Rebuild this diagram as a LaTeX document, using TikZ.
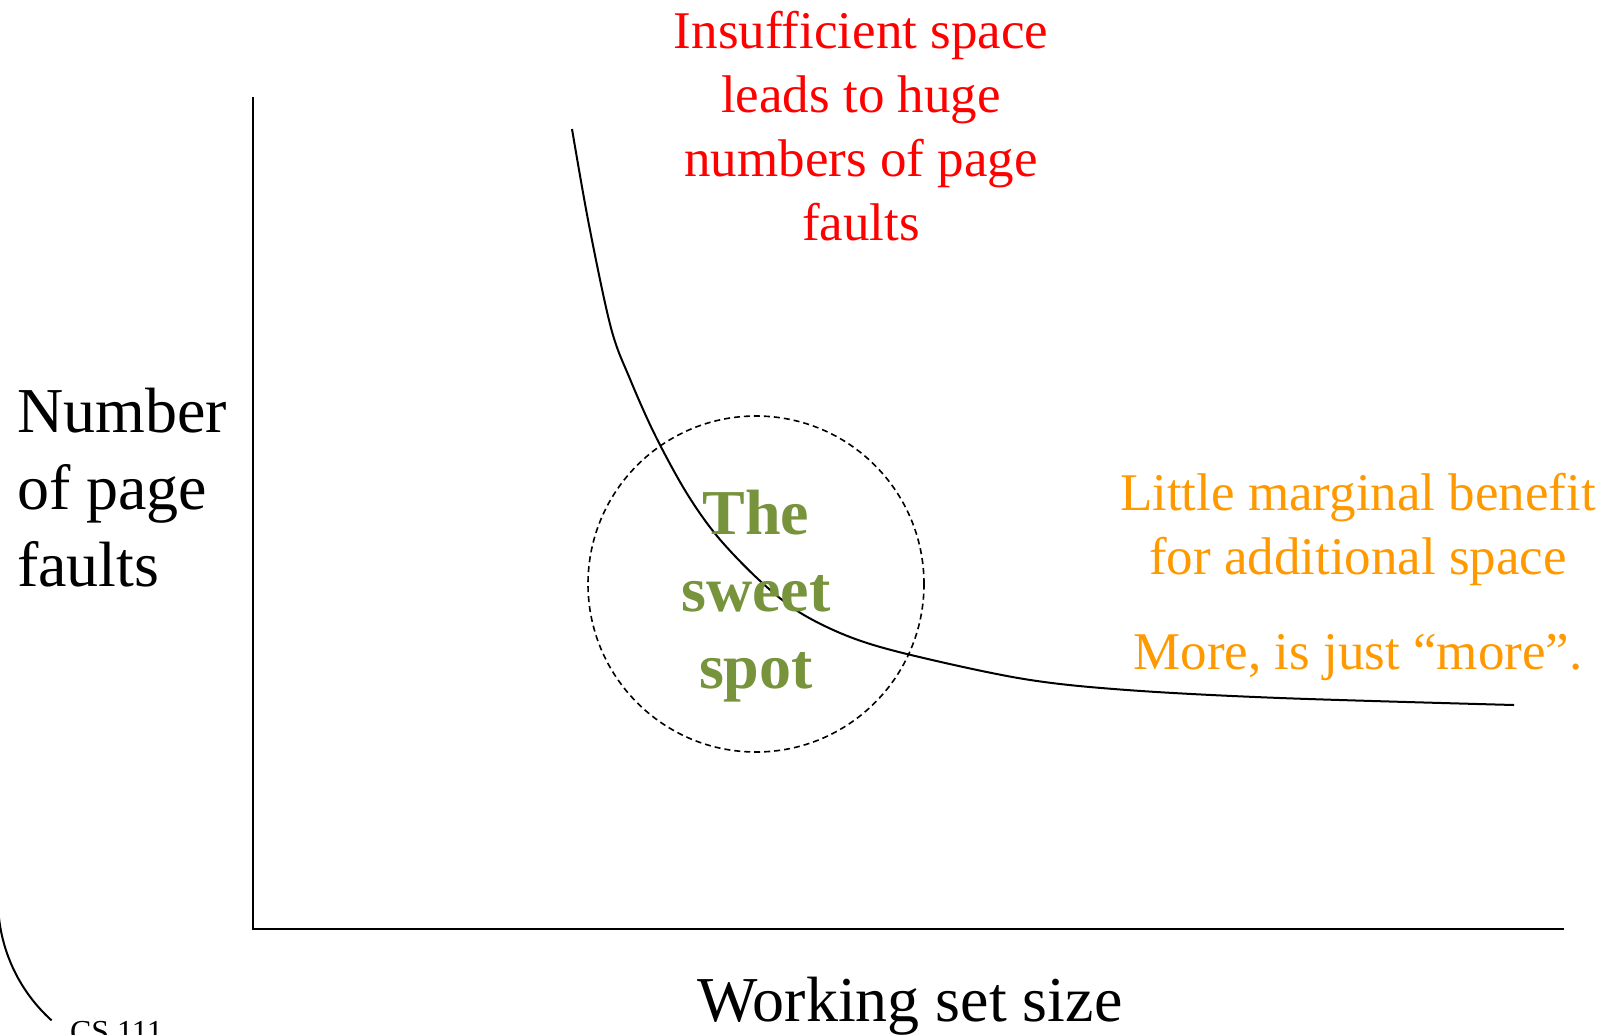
\documentclass[tikz,border=0pt]{standalone}
\usepackage{fontspec}
\setmainfont{Liberation Serif}
\definecolor{faultred}{RGB}{255,0,0}
\definecolor{benefitorange}{RGB}{255,153,0}
\definecolor{sweetgreen}{RGB}{119,147,60}

\begin{document}
\begin{tikzpicture}[x=1pt, y=-1pt, line width=2pt, every node/.style={inner sep=0pt, outer sep=0pt},
	biglabel/.style={font=\fontsize{64}{77}\selectfont},
	note/.style={font=\fontsize{53}{64}\selectfont, align=center}]
	\useasboundingbox (0,0) rectangle (1606,1034);
	\coordinate (origin) at (253,929);
	\coordinate (ytop) at (253,97);
	\coordinate (xend) at (1564,929);
	\draw (ytop) -- (origin) -- (xend);
	\node[biglabel, align=left, anchor=north west] (ylabel) at (17,388) {Number\\of page\\faults};
	\node[biglabel, anchor=base] (xlabel) at (910,1021) {Working set size};
	\draw plot[smooth, tension=0.55] coordinates {(572,129) (589,225) (611,328) (630,379) (655,435) (686,492) (717,536) (758,579) (799,612) (850,637) (911,655) (1024,679) (1127,690) (1280,698) (1514,705)};
	\node[circle, draw, line width=1.6pt, dash pattern=on 6pt off 4pt, minimum size=336pt] (spotring) at (756,584) {};
	\node[biglabel, align=center, anchor=north, text=sweetgreen, font=\fontsize{64}{77}\selectfont\bfseries] (sweetlabel) at (756,490) {The\\sweet\\spot};
	\node[note, anchor=north, text=faultred] (faultnote) at (861,11) {Insufficient space\\leads to huge\\numbers of page\\faults};
	\node[note, anchor=north, text=benefitorange] (benefitnote) at (1358,473) {Little marginal benefit\\for additional space\\[31pt]More, is just “more”.};
	\draw (-2,900) arc[start angle=180, end angle=132, radius=162];
	\node[font=\fontsize{32}{38}\selectfont, anchor=base west] (footer) at (70,1042) {CS 111};
\end{tikzpicture}
\end{document}
